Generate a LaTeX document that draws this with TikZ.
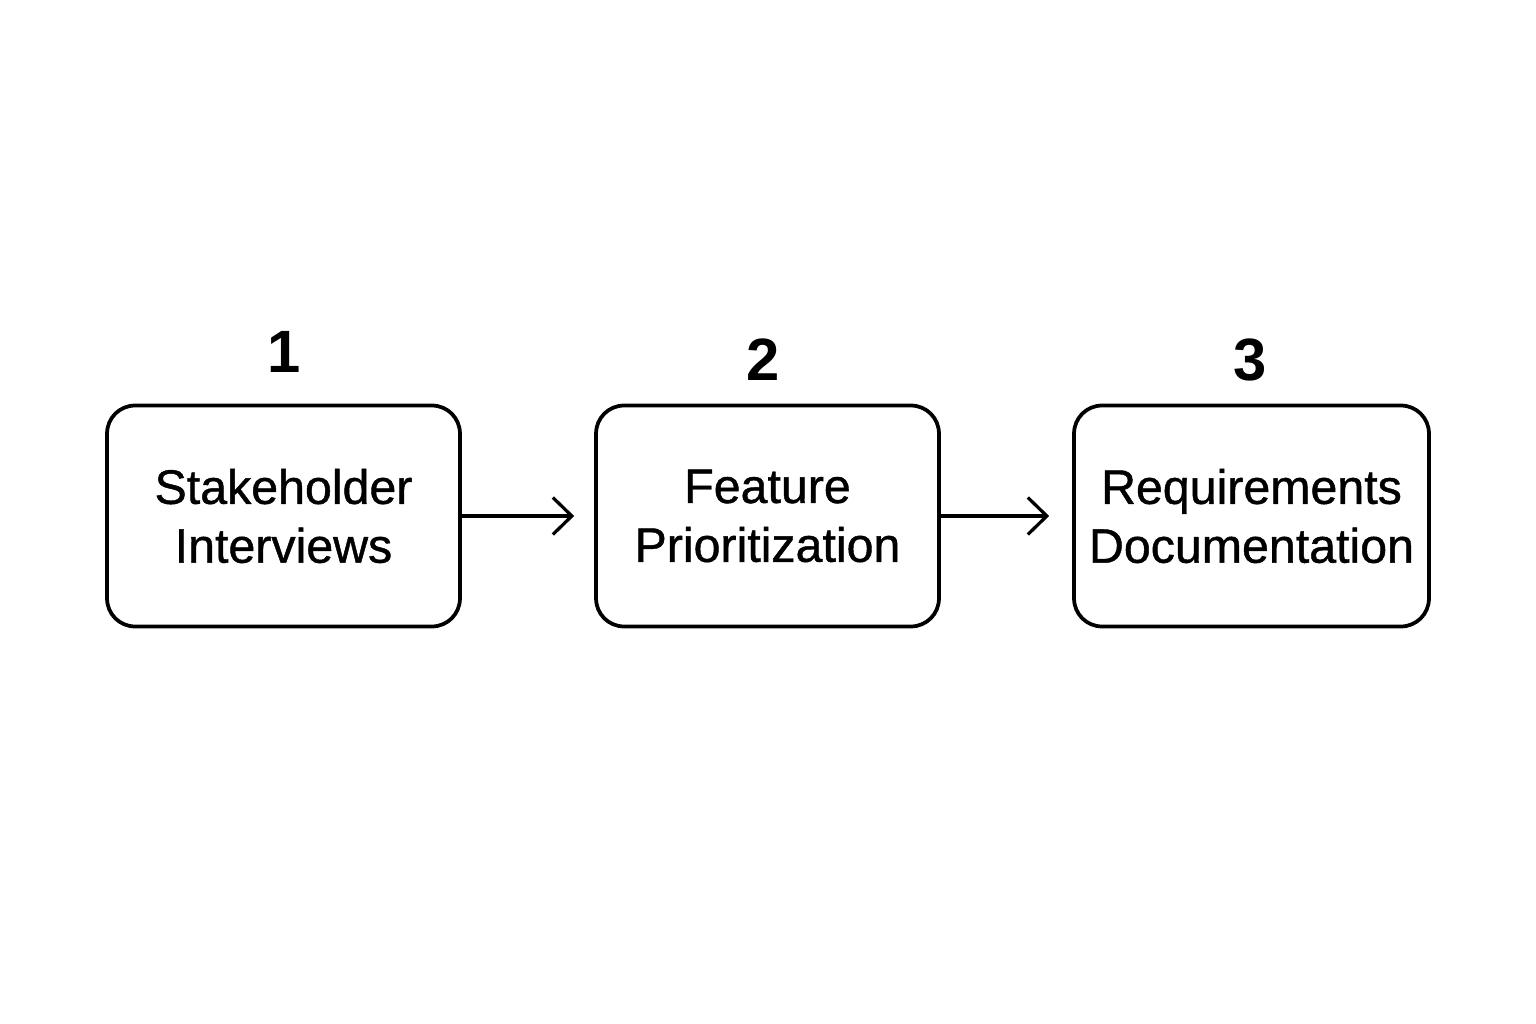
\documentclass[tikz,border=0pt]{standalone}
\usepackage{fontspec}
\setmainfont{Liberation Sans}
\newfontfamily\boxfont[FakeBold=0.9]{Liberation Sans}
\usepackage{tikz}
\usetikzlibrary{arrows.meta,positioning,calc}
\tikzstyle{phase} = [draw, line width=0.075cm, rounded corners=0.56cm, inner sep=0pt,
text width=7.06cm, align=center, minimum height=4.42cm,
font=\boxfont\fontsize{27.5}{33.5}\selectfont]
\tikzstyle{numero} = [anchor=base, font=\fontsize{34}{40}\selectfont\bfseries]
\tikzstyle{line} = [draw, line width=0.065cm, -{Straight Barb[length=0.38cm,width=0.74cm,line width=0.065cm]}]
\newcommand{\phase}[3]{node (p#1)[phase,text width=#2]{#3}}
\begin{document}
\begin{tikzpicture}[x=0.02cm,y=-0.02cm]
		\useasboundingbox (0,0) rectangle (1536,1024);
		
		% Draw diagram elements
		\path (283.5,516) \phase{1}{7.06cm}{Stakeholder\\Interviews};
		\path (767.5,516) \phase{2}{6.86cm}{Feature\\Prioritization};
		\path (1251.5,516) \phase{3}{7.1cm}{Requirements\\Documentation};
		
		% step numbers above the boxes
		\path (p1.north)+(1,-31) node (n1)[numero]{1};
		\path (p2.north)+(-4,-23) node (n2)[numero]{2};
		\path (p3.north)+(-1,-23) node (n3)[numero]{3};
		
		% Draw arrows between elements
		\path [line,shorten >=0.4cm] (p1.east) -- (p2.west);
		\path [line,shorten >=0.46cm] (p2.east) -- (p3.west);
		
\end{tikzpicture}
\end{document}
